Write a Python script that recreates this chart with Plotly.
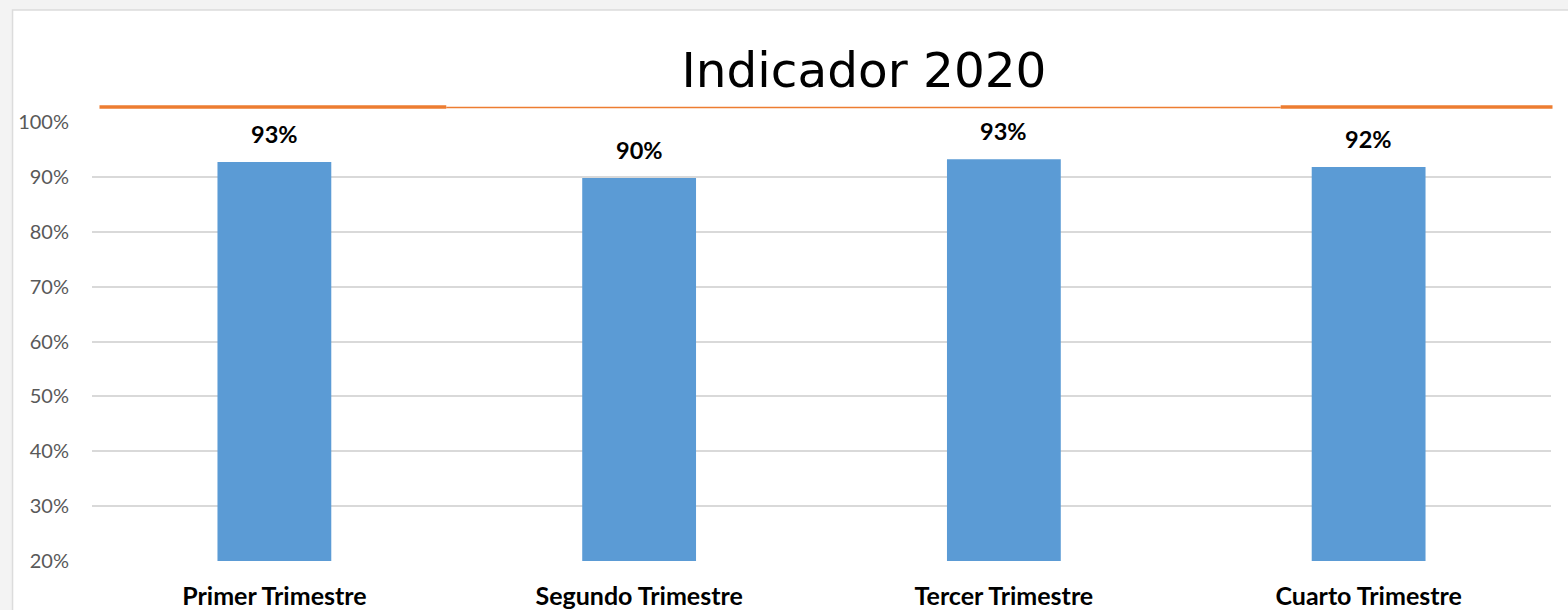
import plotly.graph_objects as go

# Quarterly indicator values (share of target reached)
quarters = ["Primer Trimestre", "Segundo Trimestre", "Tercer Trimestre", "Cuarto Trimestre"]
values = [0.927, 0.898, 0.932, 0.918]
y_ticks = [0.2, 0.3, 0.4, 0.5, 0.6, 0.7, 0.8, 0.9, 1.0]
title_text = "Indicador 2020"

BAR_COLOR = "#5B9BD5"
ORANGE = "#ED7D31"
GRID = "#D9D9D9"

fig = go.Figure()
fig.add_trace(go.Bar(
    x=quarters,
    y=values,
    marker=dict(color=BAR_COLOR, line=dict(width=0)),
    width=0.312,
    hoverinfo="skip",
))

# Value labels above the bars
for q, v in zip(quarters, values):
    fig.add_annotation(
        x=q, y=v, text=f"<b>{v:.0%}</b>",
        showarrow=False, yanchor="bottom", yshift=12,
        font=dict(family="Lato", size=23.5, color="#000000"),
    )

# White card behind the chart
fig.add_shape(type="rect", xref="paper", yref="paper",
              x0=(12 - 91.5) / 1460, x1=1.0 + 30 / 1460,
              y0=-60 / 439, y1=1 + 112 / 439,
              fillcolor="white", line=dict(color="#DCDCDC", width=1.5),
              layer="below")

# Orange rule under the title
fig.add_shape(type="line", xref="paper", yref="paper",
              x0=(99 - 91.5) / 1460, x1=(446 - 91.5) / 1460,
              y0=1 + 15 / 439, y1=1 + 15 / 439,
              line=dict(color=ORANGE, width=3.5))
fig.add_shape(type="line", xref="paper", yref="paper",
              x0=(446 - 91.5) / 1460, x1=(1281 - 91.5) / 1460,
              y0=1 + 14.5 / 439, y1=1 + 14.5 / 439,
              line=dict(color=ORANGE, width=1.5))
fig.add_shape(type="line", xref="paper", yref="paper",
              x0=(1281 - 91.5) / 1460, x1=(1553 - 91.5) / 1460,
              y0=1 + 15 / 439, y1=1 + 15 / 439,
              line=dict(color=ORANGE, width=3.5))

fig.update_layout(
    width=1568, height=610,
    margin=dict(l=91.5, r=16.5, t=122, b=49),
    paper_bgcolor="#F3F3F3",
    plot_bgcolor="rgba(0,0,0,0)",
    showlegend=False,
    bargap=0.688,
    title=dict(text=title_text, x=864 / 1568, xanchor="center",
               y=1 - 70 / 610, yanchor="middle",
               font=dict(family="DejaVu Sans", size=48.5, color="#000000")),
    xaxis=dict(
        showgrid=False, showline=False, ticks="",
        automargin=False,
        tickfont=dict(family="Lato", size=25, color="#000000"),
        ticklabelstandoff=18,
        tickvals=quarters,
        ticktext=[f"<b>{q}</b>" for q in quarters],
        fixedrange=True,
    ),
    yaxis=dict(
        range=[0.2, 1.0],
        tickvals=y_ticks,
        tickformat=".0%",
        automargin=False,
        showgrid=True, gridcolor=GRID, gridwidth=1.5,
        zeroline=False, showline=False, ticks="",
        tickfont=dict(family="Lato", size=20, color="#595959"),
        ticklabelstandoff=22,
        fixedrange=True,
    ),
)

fig.write_html("out.html")
